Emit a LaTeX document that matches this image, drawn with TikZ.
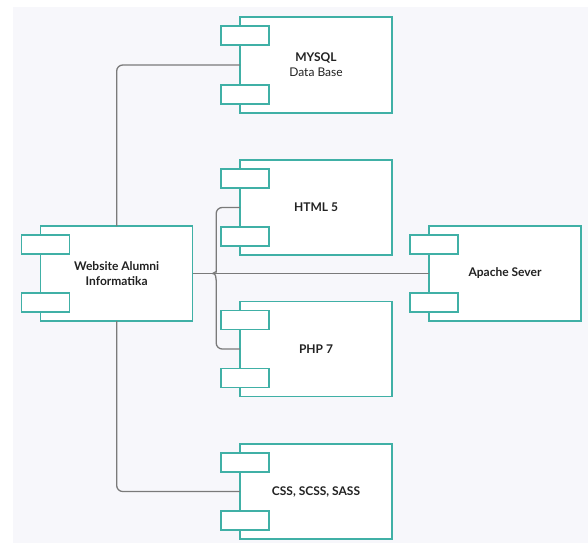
\documentclass[tikz,border=0pt]{standalone}
\usepackage{fontspec}
\setmainfont{Lato}
\usetikzlibrary{calc}
\definecolor{teal}{HTML}{40B0A6}
\definecolor{conncol}{HTML}{7A7A7A}
\definecolor{bgc}{HTML}{F7F7FB}
\definecolor{txt}{HTML}{222222}
\tikzset{
  comp/.style={draw=teal, line width=1.5pt, fill=white, minimum width=152pt, minimum height=95pt,
    inner sep=0pt, outer sep=0pt, align=center, text=txt, font=\fontsize{12}{15}\selectfont\bfseries},
  tab/.style={draw=teal, line width=1.5pt, fill=white},
  conn/.style={draw=conncol, line width=1.3pt},
}
\newcommand{\comptabs}[1]{%
  \path[tab] ([shift={(-19pt,-9pt)}]#1.north west) rectangle ++(48pt,-19pt);
  \path[tab] ([shift={(-19pt,9pt)}]#1.south west) rectangle ++(48pt,19pt);
}
\begin{document}
\begin{tikzpicture}[x=1pt,y=-1pt]
\useasboundingbox (0,0) rectangle (588,543);
\fill[white] (0,0) rectangle (588,543);
\fill[bgc] (13,7) rectangle (588,543);

\node[comp, minimum height=96pt] (mysql) at (316,65) {MYSQL\\{\mdseries Data Base}};
\node[comp] (html) at (316,207.5) {HTML 5};
\node[comp] (php) at (316,349) {PHP 7};
\node[comp] (css) at (316,491.5) {CSS, SCSS, SASS};
\node[comp] (web) at (116.7,273.5) {Website Alumni\\Informatika};
\node[comp] (apache) at (505,273.5) {Apache Sever};

\coordinate (bm) at ($(web.east)+(20pt,0pt)$);

\draw[conn, rounded corners=6pt] (web.north) |- (mysql.west);
\draw[conn, rounded corners=6pt] (web.south) |- (css.west);
\draw[conn] (web.east) -- (apache.west);
\draw[conn] (html.west) [rounded corners=6pt] -| ($(bm)+(3.5pt,7pt)$) [sharp corners]
  to[out=-90,in=0] (bm) to[out=0,in=90] ($(bm)+(3.5pt,-7pt)$) [rounded corners=6pt] |- (php.west);

\comptabs{mysql}
\comptabs{html}
\comptabs{php}
\comptabs{css}
\comptabs{web}
\comptabs{apache}
\end{tikzpicture}
\end{document}
